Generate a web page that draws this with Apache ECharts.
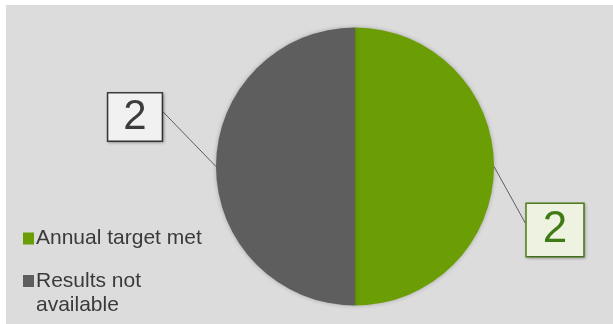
<!DOCTYPE html>
<html>
<head>
<meta charset="utf-8">
<script src="https://cdn.jsdelivr.net/npm/echarts@6/dist/echarts.min.js"></script>
<style>
html,body{margin:0;padding:0;background:#ffffff;}
#chart{width:613px;height:324px;}
</style>
</head>
<body>
<div id="chart"></div>
<script>
var categories = ['Annual target met', 'Results not available'];
var values = [2, 2];
var colors = ['#6b9e05', '#5e5e5e'];

var chart = echarts.init(document.getElementById('chart'), null, {renderer: 'canvas'});
var labelStyles = [
  {color: '#3f7a14', backgroundColor: '#eef2e1', borderColor: '#4e7f1c', x: 555, y: 230, fontSize: 44, padding: [3, 16, 1, 16], side: -1, dy: -7},
  {color: '#3c3c3c', backgroundColor: '#f1f1f1', borderColor: '#3c3c3c', x: 135, y: 117, fontSize: 42, padding: [1, 15, 0, 15], side: 1, dy: -5}
];
var data = categories.map(function (c, i) {
  var s = labelStyles[i];
  return {
    name: c,
    value: values[i],
    itemStyle: {color: colors[i]},
    label: {
      color: s.color, backgroundColor: s.backgroundColor, borderColor: s.borderColor,
      borderWidth: 1.5, fontSize: s.fontSize, padding: s.padding, lineHeight: s.fontSize + 4,
      shadowColor: 'rgba(0,0,0,0.25)', shadowBlur: 3, shadowOffsetX: 1, shadowOffsetY: 1
    }
  };
});

chart.setOption({
  backgroundColor: '#ffffff',
  animation: false,
  graphic: [{
    type: 'rect', left: 6, top: 5, z: -10,
    shape: {width: 607, height: 319},
    style: {fill: '#dcdcdc'}
  }],
  legend: [{
    orient: 'vertical', left: 18, top: 223,
    data: [categories[0]],
    icon: 'rect', itemWidth: 11, itemHeight: 12, itemGap: 0,
    textStyle: {fontFamily: 'Liberation Sans, Arial, sans-serif', fontSize: 21, color: '#3a3a3a', padding: [0, 0, 0, -3]}
  }, {
    orient: 'vertical', left: 18, top: 264,
    data: [categories[1]],
    icon: 'path://M0,0h0.05v0.05h-0.05zM0,6h11v12h-11zM0,47.95h0.05v0.05h-0.05z',
    itemWidth: 11, itemHeight: 48, itemGap: 0,
    formatter: function () { return 'Results not\navailable'; },
    textStyle: {fontFamily: 'Liberation Sans, Arial, sans-serif', fontSize: 21, lineHeight: 24, color: '#3a3a3a', padding: [0, 0, 0, -3]}
  }],
  series: [{
    type: 'pie',
    center: [355, 166.5],
    radius: 139,
    startAngle: 90,
    clockwise: true,
    data: data,
    itemStyle: {shadowColor: 'rgba(0,0,0,0.25)', shadowBlur: 4, borderWidth: 0},
    label: {
      show: true, position: 'outside', formatter: '{c}',
      fontFamily: 'Liberation Sans, Arial, sans-serif'
    },
    labelLine: {show: true, length: 10, length2: 10, lineStyle: {color: '#3c3c3c', width: 0.8}},
    labelLayout: function (params) {
      var s = labelStyles[params.dataIndex];
      var start = params.labelLinePoints ? params.labelLinePoints[0] : [0, 0];
      var w = params.labelRect ? params.labelRect.width : 56;
      var end = [s.x + s.side * w / 2, s.y + s.dy];
      return {
        x: s.x, y: s.y, align: 'center', verticalAlign: 'middle',
        labelLinePoints: [start, end, end]
      };
    },
    emphasis: {disabled: true}
  }]
});
</script>
</body>
</html>
